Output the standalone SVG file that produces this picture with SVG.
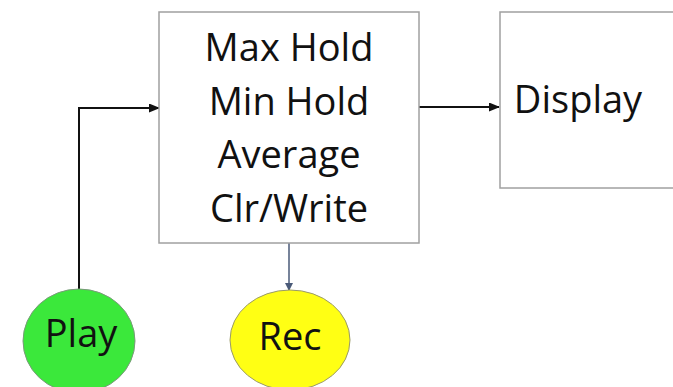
<svg xmlns="http://www.w3.org/2000/svg" width="673" height="387" viewBox="0 0 673 387">
<style>
.box{fill:#fff;stroke:#a0a0a0;stroke-width:1.5}
.t{font-family:"Open Sans","Liberation Sans",sans-serif;font-size:38px;fill:#111;text-anchor:middle}
.c{stroke:#111;stroke-width:2;fill:none}
</style>
<defs>
<marker id="ah" markerWidth="11" markerHeight="9" refX="10" refY="4.5" orient="auto" markerUnits="userSpaceOnUse">
<path d="M0,0 L11,4.5 L0,9 Z" fill="#111"/>
</marker>
<marker id="ah2" markerWidth="8" markerHeight="8" refX="7" refY="4" orient="auto" markerUnits="userSpaceOnUse">
<path d="M0,0 L8,4 L0,8 Z" fill="#4a5a78"/>
</marker>
</defs>
<rect width="673" height="387" fill="#fff"/>
<g id="connectors">
<path class="c" d="M79,289 V108 H159" marker-end="url(#ah)"/>
<path class="c" d="M419,107 H499" marker-end="url(#ah)"/>
<path d="M289,243 V290" stroke="#4a5a78" stroke-width="1.5" fill="none" marker-end="url(#ah2)"/>
</g>
<g id="proc">
<rect class="box" x="159" y="12" width="260" height="231"/>
<text class="t" x="289" y="61">Max Hold</text>
<text class="t" x="289" y="115">Min Hold</text>
<text class="t" x="289" y="168">Average</text>
<text class="t" x="289" y="222">Clr/Write</text>
</g>
<g id="display">
<rect class="box" x="500" y="12" width="180" height="176"/>
<text class="t" x="578" y="113">Display</text>
</g>
<g id="play">
<ellipse cx="79" cy="341" rx="56" ry="52" fill="#3be83b" stroke="#7a9a7a" stroke-width="1"/>
<text class="t" x="81" y="347">Play</text>
</g>
<g id="rec">
<ellipse cx="290" cy="340" rx="60" ry="50" fill="#ffff14" stroke="#9a9a6a" stroke-width="1"/>
<text class="t" x="290" y="350">Rec</text>
</g>
</svg>
